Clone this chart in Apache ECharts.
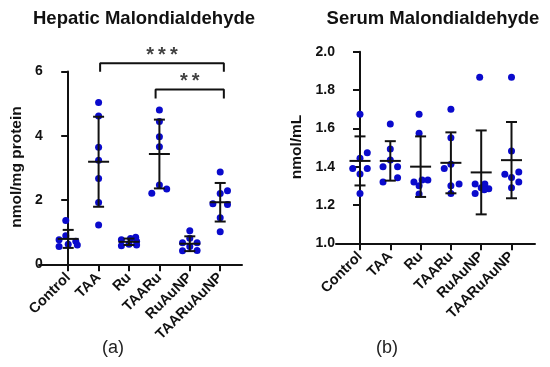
<!DOCTYPE html>
<html><head><meta charset="utf-8">
<script src="https://cdn.jsdelivr.net/npm/echarts@6/dist/echarts.min.js"></script>
<style>html,body{margin:0;padding:0;background:#fff}#c{width:550px;height:367px}</style>
</head><body><div id="c"></div>
<script>
const categories = ['Control','TAA','Ru','TAARu','RuAuNP','TAARuAuNP'];

// Hepatic MDA (nmol/mg protein), 7 animals per group
const hepaticValues = [
  [1.36, 0.89, 0.76, 0.72, 0.62, 0.60, 0.55],
  [5.03, 4.61, 3.64, 3.24, 2.67, 1.92, 1.22],
  [0.84, 0.80, 0.76, 0.72, 0.62, 0.58, 0.60],
  [4.80, 4.44, 3.97, 3.66, 2.47, 2.34, 2.21],
  [1.04, 0.81, 0.67, 0.67, 0.55, 0.42, 0.43],
  [2.87, 2.29, 2.20, 1.88, 1.86, 1.45, 1.01]
];
const hepaticJitter = [
  [-0.08, -0.08, -0.3, 0.25, 0.0, 0.3, -0.3],
  [0, 0, 0, 0, 0, 0, 0],
  [0.22, 0.05, -0.25, 0.25, 0.0, -0.25, 0.25],
  [0, 0, 0, 0, 0, 0.24, -0.25],
  [0, 0, -0.24, 0.24, 0, -0.24, 0.24],
  [0, 0.24, 0, -0.24, 0.24, 0, 0]
];
const hepaticMean = [0.79, 3.19, 0.70, 3.43, 0.64, 1.93];
const hepaticSD   = [0.28, 1.40, 0.10, 1.07, 0.23, 0.60];
const hepaticTicks = [0, 2, 4, 6];
const hepaticBrackets = [
  {from: 1.05, to: 5.12, y: 6.25, drop: 0.26, label: '*\u2009*\u2009*'},
  {from: 2.875, to: 5.12, y: 5.44, drop: 0.28, label: '*\u2009*'}
];

// Serum MDA (nmol/mL)
const serumValues = [
  [1.673, 1.473, 1.444, 1.39, 1.39, 1.362, 1.26],
  [1.623, 1.492, 1.435, 1.40, 1.40, 1.32, 1.342],
  [1.673, 1.574, 1.32, 1.33, 1.33, 1.30, 1.257],
  [1.70, 1.551, 1.412, 1.39, 1.30, 1.31, 1.26],
  [1.866, 1.31, 1.31, 1.29, 1.285, 1.28, 1.26],
  [1.866, 1.482, 1.36, 1.372, 1.344, 1.32, 1.29]
];
const serumJitter = [
  [0, 0.24, 0, -0.24, 0.24, 0, 0],
  [0, 0, 0, -0.24, 0.24, -0.24, 0.24],
  [-0.05, -0.05, -0.22, 0.24, 0.05, -0.05, -0.05],
  [0, 0, 0, -0.22, 0, 0.27, 0],
  [-0.05, -0.2, 0.12, 0.0, 0.25, 0.1, -0.2],
  [0, 0, -0.22, 0.24, 0, 0.24, 0]
];
const serumMean = [1.43, 1.43, 1.40, 1.42, 1.37, 1.434];
const serumSD   = [0.128, 0.103, 0.158, 0.159, 0.219, 0.199];
const serumTicks = [1.0, 1.2, 1.4, 1.6, 1.8, 2.0];

const FONT = "'Liberation Sans', Arial, sans-serif";
const DOT = '#0a0acc';
const INK = '#111';

function scatterData(vals, jit) {
  const out = [];
  vals.forEach((g, i) => g.forEach((v, k) => out.push([i + jit[i][k], v])));
  return out;
}
function errData(mean, sd) { return mean.map((m, i) => [i, m, sd[i]]); }

function errRender(params, api) {
  const i = api.value(0), m = api.value(1), s = api.value(2);
  const c = api.coord([i, m]), t = api.coord([i, m + s]), b = api.coord([i, m - s]);
  const hw = 10.5, cw = 5.5;
  const st = {stroke: INK, lineWidth: 2};
  const ln = (x1, y1, x2, y2) => ({type: 'line', shape: {x1, y1, x2, y2}, style: st});
  return {type: 'group', children: [
    ln(c[0] - hw, c[1], c[0] + hw, c[1]),
    ln(c[0], t[1], c[0], b[1]),
    ln(c[0] - cw, t[1], c[0] + cw, t[1]),
    ln(c[0] - cw, b[1], c[0] + cw, b[1])
  ]};
}

const catAxisBase = (grid) => ({
  type: 'category', gridIndex: grid, data: categories, boundaryGap: true,
  axisLine: {show: false},
  axisTick: {show: true, alignWithLabel: true, length: 7, lineStyle: {color: INK, width: 2}},
  axisLabel: {rotate: 45, margin: 11, color: INK, fontFamily: FONT, fontWeight: 'bold', fontSize: 14.5, interval: 0},
  splitLine: {show: false}
});
const hiddenX = (grid) => ({type: 'value', gridIndex: grid, min: -0.5, max: 5.5, show: false});
const lineX = (grid) => ({type: 'value', gridIndex: grid, min: 0, max: 1,
  axisLine: {show: true, onZero: false, lineStyle: {color: INK, width: 2}},
  axisTick: {show: false}, axisLabel: {show: false}, splitLine: {show: false}});

const chart = echarts.init(document.getElementById('c'), null, {renderer: 'canvas'});

const bracketSeries = [];
hepaticBrackets.forEach(b => {
  bracketSeries.push({
    type: 'line', xAxisIndex: 1, yAxisIndex: 0, clip: false, symbol: 'none', silent: true,
    lineStyle: {color: INK, width: 2}, z: 5,
    data: [[b.from, b.y - b.drop], [b.from, b.y], [b.to, b.y], [b.to, b.y - b.drop]]
  });
  bracketSeries.push({
    type: 'scatter', xAxisIndex: 1, yAxisIndex: 0, clip: false, symbolSize: 0, silent: true,
    data: [[(b.from + b.to) / 2, b.y]],
    label: {show: true, position: 'top', distance: -2, formatter: b.label, color: INK,
      fontFamily: FONT, fontWeight: 'bold', fontSize: 20}
  });
});

const yAxisStyle = {
  axisLine: {show: true, lineStyle: {color: INK, width: 2}},
  axisTick: {show: true, length: 7, lineStyle: {color: INK, width: 2}},
  splitLine: {show: false}
};

chart.setOption({
  animation: false,
  backgroundColor: '#fff',
  grid: [
    {left: 53, width: 182.4, top: 71.4, height: 192.9},
    {left: 39, width: 203, top: 71.4, height: 192.9},
    {left: 344.85, width: 181.8, top: 51.7, height: 191.6},
    {left: 336, width: 199, top: 51.7, height: 191.6}
  ],
  xAxis: [
    catAxisBase(0), hiddenX(0), lineX(1),
    catAxisBase(2), hiddenX(2), lineX(3)
  ],
  yAxis: [
    Object.assign({type: 'value', gridIndex: 0, min: hepaticTicks[0], max: hepaticTicks[hepaticTicks.length - 1],
     interval: hepaticTicks[1] - hepaticTicks[0], offset: 6.3,
     axisLabel: {color: INK, fontFamily: FONT, fontWeight: 'bold', fontSize: 14, margin: 4}}, yAxisStyle),
    {type: 'value', gridIndex: 1, show: false, min: 0, max: 1},
    Object.assign({type: 'value', gridIndex: 2, min: serumTicks[0], max: serumTicks[serumTicks.length - 1],
     interval: 0.2, offset: 5.9,
     axisLabel: {color: INK, fontFamily: FONT, fontWeight: 'bold', fontSize: 14, margin: 4,
       formatter: v => v.toFixed(1)}}, yAxisStyle),
    {type: 'value', gridIndex: 3, show: false, min: 0, max: 1}
  ],
  series: [
    {type: 'scatter', xAxisIndex: 1, yAxisIndex: 0, symbolSize: 7, itemStyle: {color: DOT, opacity: 1},
     data: scatterData(hepaticValues, hepaticJitter), z: 2},
    {type: 'custom', xAxisIndex: 0, yAxisIndex: 0, renderItem: errRender, data: errData(hepaticMean, hepaticSD), z: 4},
    {type: 'scatter', xAxisIndex: 4, yAxisIndex: 2, symbolSize: 7, itemStyle: {color: DOT, opacity: 1},
     data: scatterData(serumValues, serumJitter), z: 2},
    {type: 'custom', xAxisIndex: 3, yAxisIndex: 2, renderItem: errRender, data: errData(serumMean, serumSD), z: 4}
  ].concat(bracketSeries),
  graphic: [
    {type: 'text', x: 144, y: 19, style: {text: 'Hepatic Malondialdehyde', font: "bold 18.5px " + FONT, fill: INK, align: 'center', verticalAlign: 'middle'}},
    {type: 'text', x: 433, y: 19, style: {text: 'Serum Malondialdehyde', font: "bold 18.5px " + FONT, fill: INK, align: 'center', verticalAlign: 'middle'}},
    {type: 'text', x: 16.5, y: 167, rotation: Math.PI / 2, style: {text: 'nmol/mg protein', font: "bold 15.5px " + FONT, fill: INK, align: 'center', verticalAlign: 'middle'}},
    {type: 'text', x: 297, y: 147, rotation: Math.PI / 2, style: {text: 'nmol/mL', font: "bold 15.5px " + FONT, fill: INK, align: 'center', verticalAlign: 'middle'}},
    {type: 'text', x: 113, y: 348, style: {text: '(a)', font: "18px " + FONT, fill: '#222', align: 'center', verticalAlign: 'middle'}},
    {type: 'text', x: 387, y: 348, style: {text: '(b)', font: "18px " + FONT, fill: '#222', align: 'center', verticalAlign: 'middle'}}
  ]
});
</script></body></html>
